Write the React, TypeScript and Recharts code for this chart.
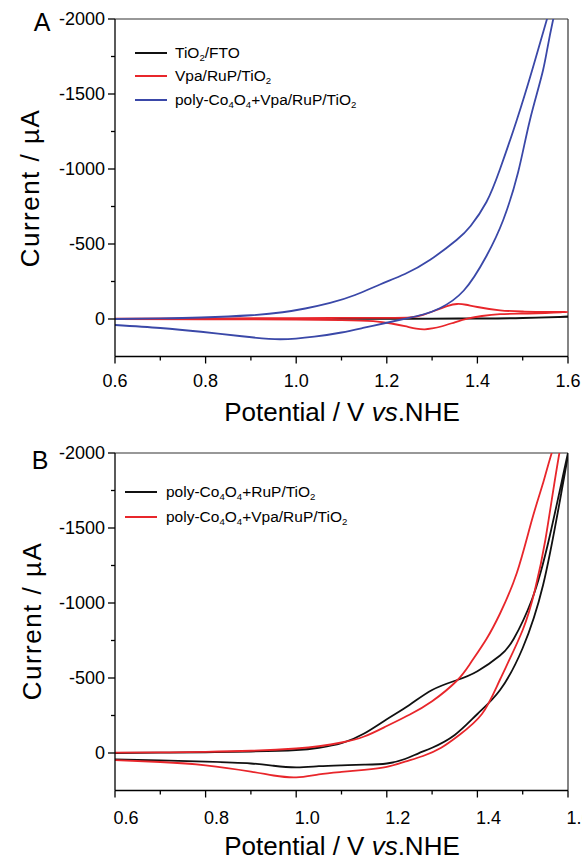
import React from "react";
import { LineChart, Line, XAxis, YAxis, ReferenceLine, Legend } from "recharts";

const FONT = "'Liberation Sans', Arial, Helvetica, sans-serif";
const BLACK = "#111111";
const RED = "#e8262b";
const BLUE = "#3a48a8";

const xMajor = [0.6, 0.8, 1.0, 1.2, 1.4, 1.6];
const xTicks = [0.6, 0.7, 0.8, 0.9, 1.0, 1.1, 1.2, 1.3, 1.4, 1.5, 1.6];
const yMajor = [-2000, -1500, -1000, -500, 0];
const yTicks = [-2000, -1750, -1500, -1250, -1000, -750, -500, -250, 0];

// panel A: TiO2/FTO
const tioV = [0.6, 0.8, 1.0, 1.2, 1.3, 1.4, 1.5, 1.6, 1.5, 1.4, 1.2, 1.0, 0.8, 0.6];
const tioI = [0, 0, -1, -2, -3, -4, -7, -15, -6, -3, -1, 0, 1, 1];

// panel A: Vpa/RuP/TiO2
const vpaV = [0.6, 0.8, 1.0, 1.1, 1.2, 1.25, 1.28, 1.31, 1.335, 1.355, 1.375, 1.4, 1.45, 1.5, 1.55, 1.6,
  1.55, 1.5, 1.45, 1.41, 1.38, 1.35, 1.32, 1.3, 1.284, 1.265, 1.24, 1.21, 1.17, 1.1, 1.0, 0.8, 0.6];
const vpaI = [-2, -4, -6, -7, -8, -10, -28, -60, -88, -100, -95, -80, -58, -50, -47, -46,
  -40, -36, -32, -20, -4, 22, 50, 63, 69, 64, 48, 30, 14, 7, 4, 2, 1];

// panel A: poly-Co4O4+Vpa/RuP/TiO2
const coVpaV = [0.6, 0.7, 0.79, 0.88, 0.964, 1.04, 1.1, 1.15, 1.2, 1.244, 1.28, 1.317, 1.37, 1.42, 1.457, 1.49, 1.516, 1.545, 1.567, 1.6,
  1.553, 1.52, 1.487, 1.45, 1.42, 1.385, 1.354, 1.295, 1.24, 1.185, 1.13, 1.075, 1.02, 0.97, 0.9, 0.79, 0.7, 0.6];
const coVpaI = [40, 60, 85, 115, 135, 118, 90, 58, 25, -4, -30, -72, -190, -420, -660, -980, -1327, -1660, -1993, -2450,
  -1993, -1650, -1327, -1000, -780, -620, -527, -393, -300, -230, -160, -107, -70, -45, -25, -10, -4, 0];

// panel B: poly-Co4O4+RuP/TiO2
const coRupV = [0.6, 0.7, 0.8, 0.9, 0.95, 1.0, 1.05, 1.1, 1.15, 1.2, 1.24, 1.27, 1.3, 1.35, 1.4, 1.45, 1.5, 1.545, 1.582, 1.6,
  1.56, 1.52, 1.48, 1.45, 1.4, 1.354, 1.3, 1.25, 1.2, 1.15, 1.1, 1.05, 1.0, 0.9, 0.8, 0.7, 0.6];
const coRupI = [42, 50, 58, 70, 85, 96, 88, 82, 78, 70, 40, 2, -35, -120, -260, -420, -700, -1120, -1680, -2000,
  -1450, -1020, -760, -650, -545, -485, -420, -320, -225, -130, -65, -35, -20, -10, -5, -2, 0];

// panel B: poly-Co4O4+Vpa/RuP/TiO2
const coVpaBV = [0.6, 0.7, 0.8, 0.9, 0.95, 1.0, 1.05, 1.1, 1.15, 1.2, 1.24, 1.28, 1.32, 1.36, 1.41, 1.45, 1.5, 1.527, 1.55, 1.581, 1.6,
  1.564, 1.545, 1.52, 1.487, 1.45, 1.42, 1.385, 1.354, 1.3, 1.25, 1.2, 1.15, 1.1, 1.05, 1.0, 0.9, 0.8, 0.7, 0.6];
const coVpaBI = [47, 60, 82, 124, 150, 162, 142, 126, 112, 92, 58, 20, -35, -120, -260, -490, -820, -1087, -1420, -2000, -2330,
  -2000, -1800, -1550, -1200, -930, -760, -600, -480, -345, -255, -180, -110, -70, -45, -30, -15, -8, -4, -2];

const zip = (v: number[], i: number[]) => v.map((x, k) => ({ v: x, i: i[k] }));

type Series = { key: string; name: string; color: string; v: number[]; i: number[] };

const seriesA: Series[] = [
  { key: "tio", name: "TiO_2/FTO", color: BLACK, v: tioV, i: tioI },
  { key: "vpa", name: "Vpa/RuP/TiO_2", color: RED, v: vpaV, i: vpaI },
  { key: "covpa", name: "poly-Co_4O_4+Vpa/RuP/TiO_2", color: BLUE, v: coVpaV, i: coVpaI },
];

const seriesB: Series[] = [
  { key: "corup", name: "poly-Co_4O_4+RuP/TiO_2", color: BLACK, v: coRupV, i: coRupI },
  { key: "covpab", name: "poly-Co_4O_4+Vpa/RuP/TiO_2", color: RED, v: coVpaBV, i: coVpaBI },
];

// "TiO_2" -> TiO<sub>2</sub>
function Chem({ text }: { text: string }) {
  const parts = text.split(/_(\d)/);
  return (
    <>
      {parts.map((p, k) =>
        k % 2 === 1 ? (
          <sub key={k} style={{ fontSize: "0.62em", verticalAlign: "-0.35em", lineHeight: 0 }}>{p}</sub>
        ) : (
          <span key={k}>{p}</span>
        )
      )}
    </>
  );
}

const isMajor = (list: number[], v: number) => list.some((m) => Math.abs(m - v) < 1e-6);

const XTick = (props: any) => {
  const { x, y, payload, shift, dy } = props;
  const major = isMajor(xMajor, payload.value);
  return (
    <g>
      <line x1={x} x2={x} y1={y} y2={y + (major ? 7 : 4)} stroke="#000" strokeWidth={1.3} />
      {major && (
        <text x={x + shift} y={y + dy} textAnchor="middle" fontSize={18} fontFamily={FONT} fill="#000">
          {payload.value.toFixed(1)}
        </text>
      )}
    </g>
  );
};

const YTick = (props: any) => {
  const { x, y, payload } = props;
  const major = isMajor(yMajor, payload.value);
  return (
    <g>
      <line x1={x} x2={x - (major ? 7 : 4)} y1={y} y2={y} stroke="#000" strokeWidth={1.3} />
      {major && (
        <text x={x - 10} y={y + 6} textAnchor="end" fontSize={18} fontFamily={FONT} fill="#000">
          {String(payload.value)}
        </text>
      )}
    </g>
  );
};

const LegendBox = ({ items, rowH, lineW, gap }: { items: Series[]; rowH: number; lineW: number; gap: number }) => (
  <div style={{ fontFamily: FONT, fontSize: 15.5, color: "#000" }}>
    {items.map((s) => (
      <div key={s.key} style={{ display: "flex", alignItems: "center", height: rowH, whiteSpace: "nowrap" }}>
        <svg width={lineW} height={4} style={{ marginRight: gap }}>
          <line x1={0} x2={lineW} y1={2} y2={2} stroke={s.color} strokeWidth={2} />
        </svg>
        <span>
          <Chem text={s.name} />
        </span>
      </div>
    ))}
  </div>
);

type PanelProps = {
  series: Series[];
  top: number;
  marginTop: number;
  xAxisH: number;
  tickShift: number;
  tickDy: number;
  legendLeft: number;
  legendTop: number;
  rowH: number;
  lineW: number;
  gap: number;
};

const Panel = (p: PanelProps) => (
  <div style={{ position: "absolute", left: 0, top: p.top }}>
    <LineChart width={582} height={430} margin={{ top: p.marginTop, right: 14, left: 0, bottom: 0 }}>
      <XAxis
        dataKey="v"
        type="number"
        domain={[0.6, 1.6]}
        allowDataOverflow
        ticks={xTicks}
        interval={0}
        height={p.xAxisH}
        tickSize={0}
        tickMargin={0}
        tickLine={false}
        axisLine={{ stroke: "#000", strokeWidth: 1.3 }}
        tick={(tp: any) => <XTick {...tp} shift={p.tickShift} dy={p.tickDy} />}
      />
      <YAxis
        type="number"
        domain={[-2000, 250]}
        reversed
        allowDataOverflow
        ticks={yTicks}
        interval={0}
        width={115}
        tickSize={0}
        tickMargin={0}
        tickLine={false}
        axisLine={{ stroke: "#000", strokeWidth: 1.3 }}
        tick={(tp: any) => <YTick {...tp} />}
      />
      <ReferenceLine y={-2000} stroke="#333" strokeWidth={1.2} />
      <ReferenceLine x={1.6} stroke="#333" strokeWidth={1.2} />
      {p.series.map((s) => (
        <Line
          key={s.key}
          data={zip(s.v, s.i)}
          dataKey="i"
          name={s.name}
          type="natural"
          stroke={s.color}
          strokeWidth={1.8}
          dot={false}
          activeDot={false}
          isAnimationActive={false}
        />
      ))}
      <Legend
        layout="horizontal"
        verticalAlign="middle"
        align="center"
        wrapperStyle={{ position: "absolute", left: p.legendLeft, top: p.legendTop, width: "auto" }}
        content={() => <LegendBox items={p.series} rowH={p.rowH} lineW={p.lineW} gap={p.gap} />}
      />
    </LineChart>
  </div>
);

const textStyle: React.CSSProperties = {
  position: "absolute",
  fontFamily: FONT,
  color: "#000",
  whiteSpace: "nowrap",
  transform: "translate(-50%, -50%)",
  lineHeight: 1,
};

const yTitle: React.CSSProperties = {
  ...textStyle,
  fontSize: 26,
  letterSpacing: 1.5,
  transform: "translate(-50%, -50%) rotate(-90deg)",
};

export default function App() {
  return (
    <div style={{ position: "relative", width: 582, height: 860, background: "#fff", overflow: "hidden" }}>
      <style>{"body{margin:0}"}</style>
      <Panel
        series={seriesA}
        top={0}
        marginTop={19}
        xAxisH={73.5}
        tickShift={0}
        tickDy={30}
        legendLeft={135}
        legendTop={41}
        rowH={23.5}
        lineW={32}
        gap={8}
      />
      <Panel
        series={seriesB}
        top={430}
        marginTop={23}
        xAxisH={69.5}
        tickShift={11}
        tickDy={33}
        legendLeft={125}
        legendTop={49.5}
        rowH={25}
        lineW={32}
        gap={9}
      />
      <div style={{ ...textStyle, left: 42, top: 22, fontSize: 25 }}>A</div>
      <div style={{ ...textStyle, left: 40, top: 460, fontSize: 25 }}>B</div>
      <div style={{ ...yTitle, left: 30, top: 188 }}>Current / µA</div>
      <div style={{ ...yTitle, left: 32, top: 621 }}>Current / µA</div>
      <div style={{ ...textStyle, left: 342, top: 412, fontSize: 26 }}>
        Potential / V <i>vs</i>.NHE
      </div>
      <div style={{ ...textStyle, left: 342, top: 846, fontSize: 26 }}>
        Potential / V <i>vs</i>.NHE
      </div>
    </div>
  );
}
